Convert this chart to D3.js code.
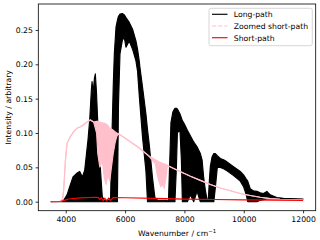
<!DOCTYPE html>
<html><head><meta charset="utf-8">
<script src="https://cdn.jsdelivr.net/npm/d3@7/dist/d3.min.js"></script>
<style>
html,body{margin:0;padding:0;background:#fff;}
svg{display:block;font-family:"DejaVu Sans",sans-serif;}
</style></head>
<body><svg id="c" width="320" height="240"></svg>
<script>
const seriesNames = ["Long-path", "Zoomed short-path", "Short-path"];
const xTicks = [4000, 6000, 8000, 10000, 12000];
const yTicks = [0.00, 0.05, 0.10, 0.15, 0.20, 0.25];

// Long-path: envelope of the fast fringe oscillation (upper / lower)
const longW = [
  3500, 3900, 4044, 4134, 4245, 4360, 4470, 4561, 4639, 4750, 4807, 4864, 4887, 4921, 4968, 4998, 5035, 5086, 5143, 5200, 5233, 5300, 5450,
  5512, 5556, 5600, 5637, 5694, 5741, 5778, 5828, 5909, 5973, 6030, 6141, 6252, 6366, 6420, 6477, 6500, 6588, 6702, 6756, 6813, 6924, 7005, 7100, 7400,
  7462, 7506, 7546, 7613, 7680, 7730, 7763, 7848, 7898, 7931, 7999, 8100, 8201, 8312, 8426, 8537, 8595, 8648, 8705, 8762,
  8806, 8840, 8873, 8930, 8991, 9042, 9109, 9210, 9320, 9435, 9657, 9882, 9993, 10084, 10134, 10218, 10319, 10443, 10554, 10665, 10780, 10890, 11115, 11340, 12000
];
const longHi = [
  0, 0, 0.01, 0.022, 0.036, 0.041, 0.044, 0.036, 0.046, 0.09, 0.119, 0.163, 0.175, 0.158, 0.18, 0.186, 0.16, 0.109, 0.065, 0.027, 0.007, 0.002, 0.002,
  0.006, 0.094, 0.167, 0.215, 0.254, 0.264, 0.270, 0.273, 0.274, 0.272, 0.268, 0.261, 0.251, 0.234, 0.222, 0.205, 0.196, 0.167, 0.128, 0.105, 0.084, 0.035, 0.006, 0.002, 0.002,
  0, 0.06, 0.115, 0.131, 0.136, 0.136, 0.135, 0.128, 0.122, 0.118, 0.113, 0.104, 0.096, 0.087, 0.080, 0.070, 0.061, 0.036, 0.017, 0.003,
  0.004, 0.03, 0.051, 0.065, 0.070, 0.070, 0.067, 0.063, 0.061, 0.058, 0.051, 0.044, 0.039, 0.033, 0.030, 0.019, 0.016, 0.015, 0.013, 0.012, 0.015, 0.010, 0.006, 0.005, 0.004
];
const longLo = [
  0, 0, 0, 0, 0, 0, 0, 0, 0, 0, 0, 0, 0, 0, 0, 0, 0, 0, 0, 0, 0, 0, 0,
  0, 0, 0, 0, 0, 0, 0.142, 0.215, 0.235, 0.239, 0.225, 0.234, 0.222, 0.205, 0.19, 0.155, 0.142, 0.094, 0.045, 0, 0, 0, 0, 0, 0,
  0, 0, 0, 0, 0, 0.05, 0.10, 0.105, 0.06, 0, 0, 0, 0.01, 0, 0.015, 0, 0, 0, 0, 0,
  0, 0, 0, 0, 0, 0.02, 0.05, 0.05, 0.048, 0.045, 0.038, 0.03, 0.022, 0.01, 0, 0, 0, 0, 0.002, 0.003, 0.004, 0.004, 0.004, 0.004, 0.004
];

// Zoomed short-path (upper / lower of the noisy trace)
const pinkW = [3500, 3830, 3900, 3935, 3990, 4044, 4158, 4269, 4380, 4494, 4605, 4716, 4830, 4941,
  5040, 5080, 5150, 5230, 5300, 5360, 5420, 5480, 5540, 5600, 5660, 5720, 5781, 6117, 6454, 6790,
  7020, 7080, 7140, 7200, 7260, 7320, 7380, 7420, 7462, 7798, 8202, 8538, 8874, 9210, 9546, 9882,
  10218, 10554, 10890, 11226, 11562, 12000];
const pinkHi = [0, 0, 0.005, 0.02, 0.061, 0.085, 0.095, 0.102, 0.107, 0.109, 0.112, 0.116, 0.119, 0.116,
  0.117, 0.117, 0.116, 0.115, 0.114, 0.113, 0.111, 0.107, 0.106, 0.104, 0.102, 0.100, 0.099, 0.089, 0.079, 0.067,
  0.061, 0.060, 0.058, 0.057, 0.056, 0.055, 0.054, 0.053, 0.052, 0.045, 0.037, 0.031, 0.025, 0.020, 0.016, 0.012,
  0.009, 0.0065, 0.0045, 0.0035, 0.003, 0.0025];
const pinkLo = [0, 0, 0.005, 0.02, 0.061, 0.085, 0.095, 0.102, 0.107, 0.109, 0.112, 0.116, 0.119, 0.116,
  0.10, 0.07, 0.05, 0.06, 0.035, 0.025, 0.04, 0.03, 0.05, 0.07, 0.085, 0.095, 0.099, 0.089, 0.079, 0.067,
  0.055, 0.04, 0.03, 0.022, 0.025, 0.02, 0.035, 0.05, 0.052, 0.045, 0.037, 0.031, 0.025, 0.020, 0.016, 0.012,
  0.009, 0.0065, 0.0045, 0.0035, 0.003, 0.0025];

// Short-path
const shortW = [3500, 3800, 3950, 4100, 4500, 5000, 5100, 5150, 5200, 5260, 5320, 5380, 5440, 5500, 5600, 6000, 7000, 8000, 9000, 10000, 11000, 12000];
const shortV = [0, 0.0003, 0.002, 0.004, 0.0055, 0.0065, 0.006, 0.003, 0.006, 0.0015, 0.005, 0.001, 0.005, 0.002, 0.006, 0.0058, 0.0048, 0.0038, 0.0032, 0.0027, 0.0023, 0.002];

const colors = ["#000000", "#ffc0cb", "#ff0000"];
const FS = 7.7;
const M = {left: 38.3, right: 315.7, top: 4, bottom: 210.7};

const svg = d3.select("#c");
const x = d3.scaleLinear().domain([3075, 12425]).range([M.left, M.right]);
const y = d3.scaleLinear().domain([-0.0131, 0.2878]).range([M.bottom, M.top]);

const clip = svg.append("clipPath").attr("id", "pc").append("rect")
  .attr("x", M.left).attr("y", M.top).attr("width", M.right - M.left).attr("height", M.bottom - M.top);
const g = svg.append("g").attr("clip-path", "url(#pc)");

const longData = longW.map((w, i) => ({w, hi: longHi[i], lo: longLo[i]}));
const pinkData = pinkW.map((w, i) => ({w, hi: pinkHi[i], lo: pinkLo[i]}));
const shortData = shortW.map((w, i) => ({w, v: shortV[i]}));

const area = d3.area().x(d => x(d.w)).y0(d => y(d.lo)).y1(d => y(d.hi));
const lineHi = d3.line().x(d => x(d.w)).y(d => y(d.hi));
const lineLo = d3.line().x(d => x(d.w)).y(d => y(d.lo));

g.append("path").attr("d", area(longData)).attr("fill", colors[0]).attr("stroke", colors[0]).attr("stroke-width", 1.15).attr("stroke-linejoin", "round");

g.append("path").attr("d", area(pinkData)).attr("fill", colors[1]).attr("stroke", "none");
g.append("path").attr("d", lineHi(pinkData)).attr("fill", "none").attr("stroke", colors[1]).attr("stroke-width", 1.15);
g.append("path").attr("d", lineLo(pinkData)).attr("fill", "none").attr("stroke", colors[1]).attr("stroke-width", 1.15);

g.append("path").attr("d", d3.line().x(d => x(d.w)).y(d => y(d.v))(shortData))
  .attr("fill", "none").attr("stroke", colors[2]).attr("stroke-width", 1.15);

// axes
const xAxis = svg.append("g").attr("transform", `translate(0,${M.bottom})`)
  .call(d3.axisBottom(x).tickValues(xTicks).tickFormat(d3.format("d")).tickSize(2.7).tickPadding(2.7));
const yAxis = svg.append("g").attr("transform", `translate(${M.left},0)`)
  .call(d3.axisLeft(y).tickValues(yTicks).tickFormat(d3.format(".2f")).tickSize(2.7).tickPadding(2.7));
[xAxis, yAxis].forEach(a => {
  a.select(".domain").remove();
  a.selectAll("text").attr("font-size", FS).attr("font-family", "DejaVu Sans").attr("fill", "#000");
  a.selectAll("line").attr("stroke", "#000").attr("stroke-width", 0.8);
});
svg.append("rect").attr("x", M.left).attr("y", M.top).attr("width", M.right - M.left).attr("height", M.bottom - M.top)
  .attr("fill", "none").attr("stroke", "#000").attr("stroke-width", 0.8);

// axis labels
const xl = svg.append("text").attr("x", (M.left + M.right) / 2).attr("y", 235.5).attr("text-anchor", "middle").attr("font-size", FS);
xl.append("tspan").text("Wavenumber / cm");
xl.append("tspan").text("\u22121").attr("font-size", FS * 0.7).attr("dy", -3);
svg.append("text").attr("transform", `translate(10.5,${(M.top + M.bottom) / 2}) rotate(-90)`)
  .attr("text-anchor", "middle").attr("font-size", FS).text("Intensity / arbitrary");

// legend
const lg = svg.append("g");
lg.append("rect").attr("x", 209).attr("y", 8.3).attr("width", 103.3).attr("height", 37.4).attr("rx", 2)
  .attr("fill", "#fff").attr("fill-opacity", 0.8).attr("stroke", "#cccccc").attr("stroke-width", 0.8);
seriesNames.forEach((n, i) => {
  const cy = 14.3 + i * 11.7;
  const ln = lg.append("line").attr("x1", 212).attr("x2", 227.5).attr("y1", cy).attr("y2", cy)
    .attr("stroke", colors[i]).attr("stroke-width", 1.15);
  if (i === 1) ln.attr("stroke-dasharray", "4.3,1.8");
  lg.append("text").attr("x", 233.8).attr("y", cy + 2.8).attr("font-size", FS).text(n);
});
</script></body></html>
